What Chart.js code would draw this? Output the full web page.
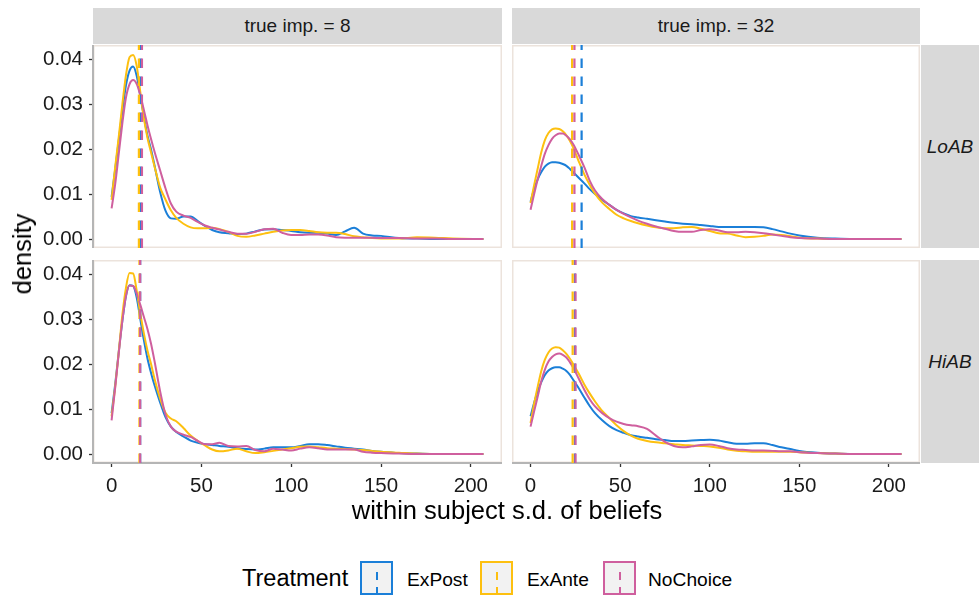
<!DOCTYPE html>
<html>
<head>
<meta charset="utf-8">
<script src="https://cdn.jsdelivr.net/npm/chart.js@4.4.1/dist/chart.umd.min.js"></script>
<style>
  body { margin: 0; background: #fff; }
  #fig { position: relative; width: 979px; height: 596px; overflow: hidden; background: #fff;
         font-family: "Liberation Sans", Arial, Helvetica, sans-serif; color: #1a1a1a; }
  canvas { position: absolute; }
  .strip { position: absolute; background: #d9d9d9; display: flex; align-items: center;
           justify-content: center; font-size: 19px; color: #1a1a1a; }
  .side { font-style: italic; }
  .title { position: absolute; font-size: 25.5px; line-height: 26px; white-space: nowrap; color: #000; }
  .legtitle { position: absolute; font-size: 23.5px; line-height: 24px; white-space: nowrap; color: #000; }
  .key { position: absolute; top: 561px; width: 33px; height: 34px; box-sizing: border-box;
         background: #f2f2f2; border: 2px solid; }
  .key i { position: absolute; left: 13.5px; top: 0; width: 2px; height: 32px; }
  .lab { position: absolute; top: 570px; font-size: 19.2px; line-height: 20px; white-space: nowrap; color: #000; }
</style>
</head>
<body>
<div id="fig">
  <div class="strip" style="left:93px;top:8px;width:409px;height:36px;">true imp. = 8</div>
  <div class="strip" style="left:512px;top:8px;width:408px;height:36px;">true imp. = 32</div>
  <div class="strip side" style="left:921px;top:45px;width:58px;height:203px;">LoAB</div>
  <div class="strip side" style="left:921px;top:260px;width:58px;height:203px;">HiAB</div>

  <canvas id="pLo8" width="502" height="203" style="left:0;top:45px;"></canvas>
  <canvas id="pLo32" width="408" height="203" style="left:512px;top:45px;"></canvas>
  <canvas id="pHi8" width="502" height="243" style="left:0;top:260px;"></canvas>
  <canvas id="pHi32" width="408" height="243" style="left:512px;top:260px;"></canvas>

  <div class="title" style="left:22px;top:254px;transform:translate(-50%,-50%) rotate(-90deg);">density</div>
  <div class="title" style="left:507px;top:497px;transform:translateX(-50%);">within subject s.d. of beliefs</div>

  <div class="legtitle" style="left:242px;top:566px;">Treatment</div>
  <div id="legend"></div>
</div>

<script>
// x positions (within-subject s.d.) at which each density is tabulated
const sdGrid = [0,2,4,6,8,10,12,14,16,18,20,22,24,27,30,33,36,40,44,48,52,56,60,65,70,75,80,85,90,95,
                100,105,110,115,120,125,130,135,140,145,150,160,170,180,190,207];

const treatments = ['ExPost', 'ExAnte', 'NoChoice'];
const treatmentColors = ['#1b7fd8', '#fdc010', '#cf5f9e'];

const xTickValues = [0, 50, 100, 150, 200];
const yTickValues = [0, 0.01, 0.02, 0.03, 0.04];

// LoAB, true imp. = 8
const lo8ExPost = [0.0094,0.0155,0.0220,0.0285,0.0342,0.0375,0.0384,0.0363,0.0318,0.0272,
  0.0230,0.0199,0.0162,0.0105,0.0063,0.0046,0.0045,0.0050,0.0050,0.0040,
  0.0029,0.0020,0.0015,0.0013,0.0011,0.0012,0.0017,0.0021,0.0022,0.0020,
  0.0018,0.0015,0.0014,0.0014,0.0012,0.0009,0.0017,0.0025,0.0012,0.0008,
  0.0007,0.0002,0.0001,0,0,0];
const lo8ExAnte = [0.0087,0.0160,0.0228,0.0300,0.0365,0.0405,0.0410,0.0385,0.0327,0.0268,
  0.0225,0.0192,0.0160,0.0115,0.0088,0.0064,0.0047,0.0034,0.0026,0.0024,
  0.0024,0.0025,0.0022,0.0016,0.0007,0.0005,0.0008,0.0012,0.0016,0.0019,
  0.0020,0.0020,0.0018,0.0015,0.0014,0.0014,0.0011,0.0006,0.0004,0.0002,
  0.0001,0.0001,0.0004,0.0003,0.0001,0];
const lo8NoChoice = [0.0068,0.0122,0.0190,0.0258,0.0315,0.0345,0.0354,0.0345,0.0320,0.0287,
  0.0253,0.0222,0.0193,0.0153,0.0113,0.0079,0.0061,0.0052,0.0047,0.0038,
  0.0030,0.0025,0.0021,0.0016,0.0012,0.0012,0.0016,0.0022,0.0023,0.0014,
  0.0009,0.0009,0.0010,0.0010,0.0008,0.0004,0.0003,0.0003,0.0003,0.0003,
  0.0002,0.0002,0.0001,0.0001,0,0];

// LoAB, true imp. = 32
const lo32ExPost = [0.0083,0.0112,0.0133,0.0149,0.0161,0.0168,0.0171,0.0171,0.0170,0.0167,
  0.0163,0.0156,0.0148,0.0136,0.0124,0.0111,0.0100,0.0087,0.0076,0.0065,
  0.0057,0.0051,0.0048,0.0045,0.0042,0.0039,0.0036,0.0034,0.0033,0.0031,
  0.0029,0.0027,0.0027,0.0027,0.0027,0.0027,0.0026,0.0022,0.0017,0.0012,
  0.0008,0.0003,0.0001,0,0,0];
const lo32ExAnte = [0.0080,0.0120,0.0157,0.0193,0.0220,0.0236,0.0244,0.0246,0.0245,0.0240,
  0.0231,0.0218,0.0202,0.0172,0.0144,0.0121,0.0101,0.0081,0.0067,0.0054,
  0.0046,0.0040,0.0035,0.0030,0.0026,0.0024,0.0024,0.0026,0.0027,0.0023,
  0.0018,0.0013,0.0012,0.0008,0.0004,0.0005,0.0007,0.0010,0.0009,0.0006,
  0.0003,0.0001,0,0,0,0];
const lo32NoChoice = [0.0065,0.0100,0.0133,0.0163,0.0190,0.0209,0.0223,0.0231,0.0235,0.0235,
  0.0230,0.0222,0.0210,0.0186,0.0160,0.0130,0.0108,0.0089,0.0076,0.0065,
  0.0056,0.0048,0.0041,0.0034,0.0028,0.0023,0.0018,0.0016,0.0016,0.0020,
  0.0022,0.0019,0.0015,0.0015,0.0016,0.0015,0.0013,0.0010,0.0007,0.0004,
  0.0002,0.0001,0,0,0,0];

// HiAB, true imp. = 8
const hi8ExPost = [0.0091,0.0155,0.0228,0.0297,0.0352,0.0376,0.0374,0.0348,0.0300,0.0253,
  0.0212,0.0180,0.0152,0.0115,0.0082,0.0061,0.0049,0.0039,0.0030,0.0025,
  0.0022,0.0020,0.0018,0.0016,0.0013,0.0011,0.0010,0.0012,0.0015,0.0015,
  0.0015,0.0018,0.0022,0.0022,0.0020,0.0017,0.0014,0.0012,0.0010,0.0007,
  0.0005,0.0002,0.0001,0,0,0];
const hi8ExAnte = [0.0084,0.0150,0.0228,0.0310,0.0370,0.0403,0.0402,0.0363,0.0313,0.0268,
  0.0230,0.0200,0.0166,0.0124,0.0092,0.0079,0.0073,0.0058,0.0041,0.0029,
  0.0019,0.0010,0.0006,0.0008,0.0012,0.0006,0.0002,0.0004,0.0007,0.0010,
  0.0013,0.0016,0.0017,0.0015,0.0013,0.0012,0.0011,0.0010,0.0009,0.0007,
  0.0005,0.0003,0.0001,0,0,0];
const hi8NoChoice = [0.0075,0.0148,0.0225,0.0297,0.0352,0.0375,0.0374,0.0357,0.0332,0.0305,
  0.0278,0.0245,0.0205,0.0140,0.0088,0.0061,0.0050,0.0043,0.0038,0.0029,
  0.0022,0.0022,0.0025,0.0018,0.0017,0.0018,0.0009,0.0006,0.0012,0.0010,
  0.0008,0.0012,0.0015,0.0013,0.0010,0.0010,0.0010,0.0010,0.0005,0.0003,
  0.0002,0.0001,0,0,0,0];

// HiAB, true imp. = 32
const hi32ExPost = [0.0084,0.0114,0.0140,0.0160,0.0176,0.0186,0.0191,0.0193,0.0193,0.0190,
  0.0185,0.0176,0.0164,0.0146,0.0126,0.0107,0.0091,0.0075,0.0062,0.0053,
  0.0047,0.0042,0.0039,0.0036,0.0033,0.0031,0.0029,0.0029,0.0030,0.0031,
  0.0032,0.0030,0.0026,0.0023,0.0023,0.0024,0.0024,0.0020,0.0015,0.0011,
  0.0007,0.0003,0.0001,0,0,0];
const hi32ExAnte = [0.0069,0.0112,0.0150,0.0185,0.0210,0.0226,0.0235,0.0238,0.0237,0.0231,
  0.0223,0.0212,0.0199,0.0178,0.0155,0.0135,0.0117,0.0096,0.0080,0.0064,
  0.0051,0.0041,0.0034,0.0029,0.0026,0.0024,0.0022,0.0020,0.0019,0.0018,
  0.0017,0.0014,0.0010,0.0007,0.0006,0.0005,0.0005,0.0005,0.0005,0.0005,
  0.0004,0.0002,0.0001,0,0,0];
const hi32NoChoice = [0.0061,0.0095,0.0128,0.0162,0.0188,0.0206,0.0216,0.0222,0.0224,0.0221,
  0.0215,0.0204,0.0191,0.0167,0.0143,0.0122,0.0106,0.0091,0.0080,0.0072,
  0.0067,0.0064,0.0062,0.0056,0.0041,0.0027,0.0018,0.0015,0.0017,0.0020,
  0.0021,0.0018,0.0013,0.0010,0.0009,0.0008,0.0008,0.0007,0.0006,0.0006,
  0.0004,0.0002,0.0001,0,0,0];

// medians per treatment (ExPost, ExAnte, NoChoice)
const lo8Median  = [16.1, 15.2, 16.9];
const lo32Median = [28.5, 23.2, 24.5];
const hi8Median  = [15.9, 15.5, 15.9];
const hi32Median = [24.8, 23.5, 25.1];

const X_MIN = -10.35, X_MAX = 217.35;
const Y_MIN = -0.002, Y_MAX = 0.0432;
const FONT = '"Liberation Sans", Arial, Helvetica, sans-serif';

const panelFrame = {
  id: 'panelFrame',
  beforeDraw(chart) {
    const a = chart.chartArea, ctx = chart.ctx;
    ctx.save();
    ctx.strokeStyle = '#ece3dc';
    ctx.lineWidth = 1.5;
    ctx.strokeRect(a.left + 0.75, a.top + 0.75, a.right - a.left - 1.5, a.bottom - a.top - 1.5);
    ctx.restore();
  }
};

function makePanel(id, curves, medians, showX, showY) {
  const datasets = [];
  curves.forEach((vals, i) => {
    datasets.push({
      data: sdGrid.map((x, k) => ({ x, y: vals[k] })),
      borderColor: treatmentColors[i], borderWidth: 2, pointRadius: 0,
      cubicInterpolationMode: 'monotone', fill: false, order: 10 - i
    });
  });
  medians.forEach((m, i) => {
    datasets.push({
      data: [{ x: m, y: Y_MIN }, { x: m, y: Y_MAX }],
      borderColor: treatmentColors[i], borderWidth: 2.2, pointRadius: 0,
      borderDash: [9.5, 8.5], fill: false, order: 5 - i
    });
  });

  new Chart(document.getElementById(id), {
    type: 'line',
    data: { datasets },
    plugins: [panelFrame],
    options: {
      responsive: false, animation: false, devicePixelRatio: 1,
      layout: { padding: 0 },
      plugins: { legend: { display: false }, tooltip: { enabled: false } },
      scales: {
        x: {
          type: 'linear', min: X_MIN, max: X_MAX, display: showX,
          afterBuildTicks: s => { s.ticks = xTickValues.map(v => ({ value: v })); },
          afterFit: s => {
            s.height = showX ? 40 : 0;
            s.paddingLeft = 0; s.paddingRight = 0;
          },
          ticks: { color: '#1a1a1a', font: { family: FONT, size: 20.5 }, padding: 7,
                   maxRotation: 0, autoSkip: false, callback: v => String(v) },
          grid: { display: true, drawOnChartArea: false, drawTicks: true, tickLength: 4,
                  tickColor: '#333', tickWidth: 1.3 },
          border: { display: true, color: '#b5b5b5', width: 2 }
        },
        y: {
          type: 'linear', min: Y_MIN, max: Y_MAX, display: showY,
          afterBuildTicks: s => { s.ticks = yTickValues.map(v => ({ value: v })); },
          afterFit: s => {
            s.width = showY ? 93 : 0;
            s.paddingTop = 0; s.paddingBottom = 0;
          },
          ticks: { color: '#1a1a1a', font: { family: FONT, size: 20.5 }, padding: 6,
                   callback: v => v.toFixed(2) },
          grid: { display: true, drawOnChartArea: false, drawTicks: true, tickLength: 4,
                  tickColor: '#333', tickWidth: 1.3 },
          border: { display: true, color: '#b5b5b5', width: 2 }
        }
      }
    }
  });
}

makePanel('pLo8',  [lo8ExPost, lo8ExAnte, lo8NoChoice],   lo8Median,  false, true);
makePanel('pLo32', [lo32ExPost, lo32ExAnte, lo32NoChoice], lo32Median, false, false);
makePanel('pHi8',  [hi8ExPost, hi8ExAnte, hi8NoChoice],   hi8Median,  true,  true);
makePanel('pHi32', [hi32ExPost, hi32ExAnte, hi32NoChoice], hi32Median, true,  false);

// legend keys: grey box with coloured outline and a dashed median mark
const keyLeft = [360, 480, 603];
const labelLeft = [407, 527, 648];
const legend = document.getElementById('legend');
treatments.forEach((t, i) => {
  const c = treatmentColors[i];
  const key = document.createElement('div');
  key.className = 'key';
  key.style.left = keyLeft[i] + 'px';
  key.style.borderColor = c;
  const dash = document.createElement('i');
  dash.style.background = `linear-gradient(to bottom, transparent 0 9px, ${c} 9px 17.5px, transparent 17.5px 24px, ${c} 24px 32px)`;
  key.appendChild(dash);
  legend.appendChild(key);
  const lab = document.createElement('div');
  lab.className = 'lab';
  lab.style.left = labelLeft[i] + 'px';
  lab.textContent = t;
  legend.appendChild(lab);
});
</script>
</body>
</html>
